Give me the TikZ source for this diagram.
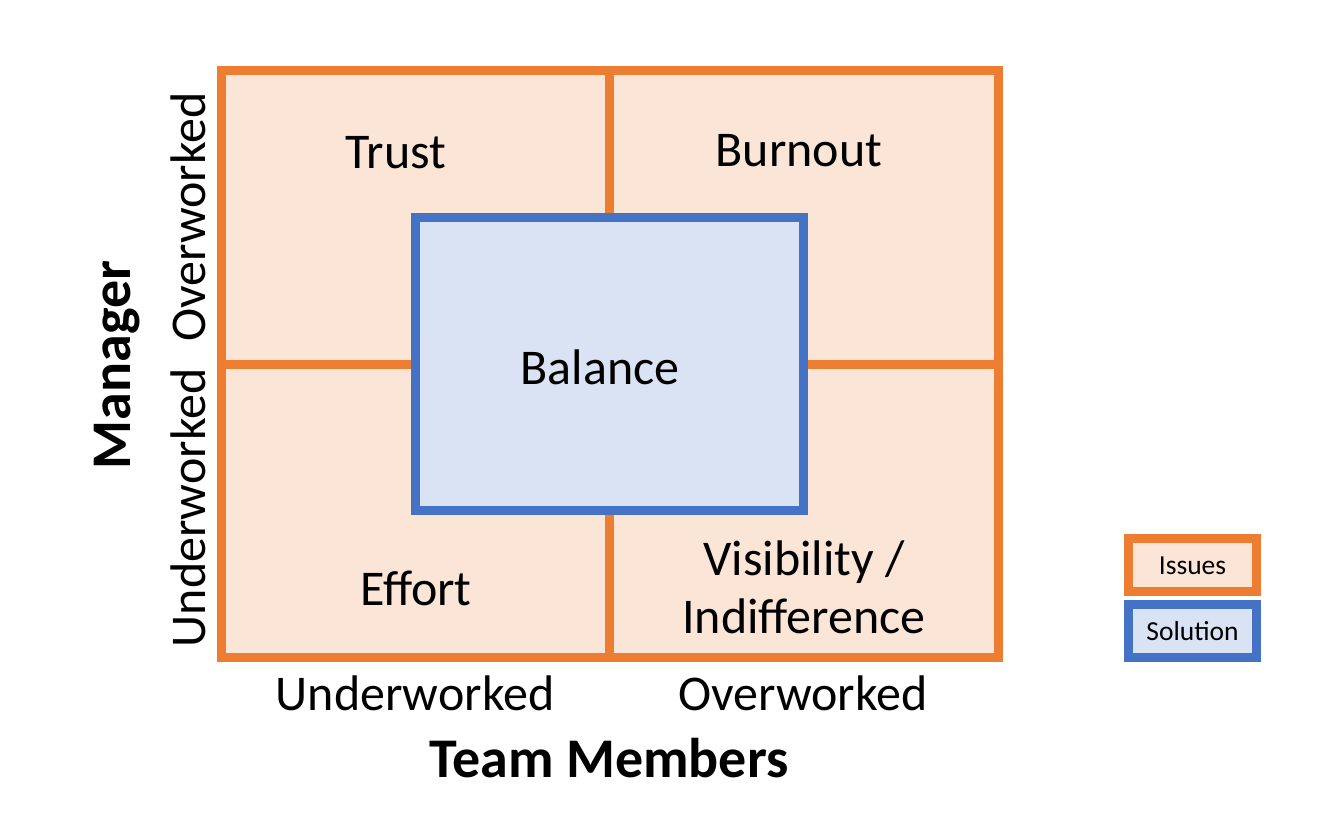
\documentclass[tikz,border=0pt]{standalone}
\usepackage{fontspec}
\setmainfont{Carlito}
\definecolor{orng}{HTML}{ED7D31}
\definecolor{orngfill}{HTML}{FBE5D6}
\definecolor{blu}{HTML}{4472C4}
\definecolor{blufill}{HTML}{DAE3F3}
\begin{document}
\begin{tikzpicture}[x=1pt,y=-1pt,
  cell/.style={draw=orng,fill=orngfill,line width=9pt,rectangle,inner sep=0pt,outer sep=0pt},
  sol/.style={draw=blu,fill=blufill,line width=9pt,rectangle,inner sep=0pt,outer sep=0pt},
  big/.style={font=\fontsize{50}{60}\selectfont,anchor=base,inner sep=0pt},
  axis/.style={font=\fontsize{56}{66}\selectfont\bfseries,anchor=base,inner sep=0pt},
  small/.style={font=\fontsize{27.5}{33}\selectfont,anchor=base,inner sep=0pt}]
\useasboundingbox (0,0) rectangle (1318,828);
% cells
\node[cell,minimum width=388pt,minimum height=293.5pt,anchor=north west] (tl) at (221.5,70.5) {};
\node[cell,minimum width=389pt,minimum height=293.5pt,anchor=north west] (tr) at (609.5,70.5) {};
\node[cell,minimum width=388pt,minimum height=293.5pt,anchor=north west] (bl) at (221.5,364) {};
\node[cell,minimum width=389pt,minimum height=293.5pt,anchor=north west] (br) at (609.5,364) {};
% solution box
\node[sol,minimum width=388pt,minimum height=293.5pt,anchor=north west] (bal) at (415.5,217) {};
% labels
\node[big] (trust) at (396,168) {Trust};
\node[big] (burnout) at (799,166) {Burnout};
\node[big] (effort) at (416,605) {Effort};
\node[big] (vis) at (804,575) {Visibility /};
\node[big] (ind) at (804,633) {Indifference};
\node[big] (balance) at (600,384) {Balance};
% axes
\node[big] (xu) at (415,710) {Underworked};
\node[big] (xo) at (803,710) {Overworked};
\node[axis] (xl) at (609,777) {Team Members};
\node[big,rotate=90] (yo) at (205,217) {Overworked};
\node[big,rotate=90] (yu) at (205,508) {Underworked};
\node[axis,rotate=90] (yl) at (130,365) {Manager};
% legend
\node[cell,minimum width=128pt,minimum height=53pt,anchor=north west] (leg1) at (1128.5,538.5) {};
\node[sol,minimum width=128pt,minimum height=53pt,anchor=north west] (leg2) at (1128.5,604.5) {};
\node[small] (leg1t) at (1192.5,574) {Issues};
\node[small] (leg2t) at (1192.5,640) {Solution};
\end{tikzpicture}
\end{document}
